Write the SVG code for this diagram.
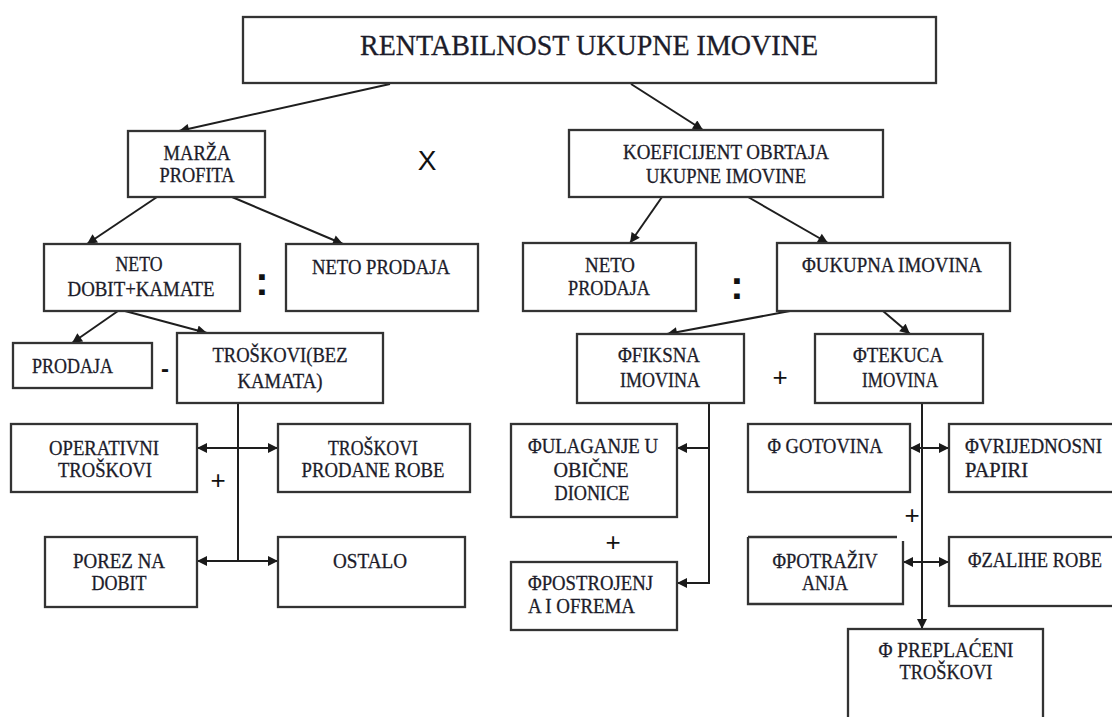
<svg xmlns="http://www.w3.org/2000/svg" width="1112" height="717" viewBox="0 0 1112 717">
<defs>
<marker id="ah" viewBox="0 0 10 10" markerWidth="11" markerHeight="10" refX="10" refY="5" orient="auto-start-reverse" markerUnits="userSpaceOnUse">
<path d="M0,0 L10,5 L0,10 z" fill="#1a1a1a"/>
</marker>
<style>
.box{fill:#fff;stroke:#333;stroke-width:2.3}
.t{font-family:"Liberation Serif","Times New Roman",serif;font-size:20px;fill:#1c1c2a;stroke:#1c1c2a;stroke-width:0.3;text-anchor:middle}
.s{text-anchor:start}
.title{font-size:30px}
.op{font-family:"Liberation Sans",Arial,sans-serif;fill:#111;text-anchor:middle}
.c{fill:none;stroke:#1e1e1e;stroke-width:2}
.a{marker-end:url(#ah)}
.d{marker-start:url(#ah);marker-end:url(#ah)}
</style>
</defs>
<rect width="1112" height="717" fill="#fff"/>

<g id="connectors">
<line class="c a" x1="390" y1="84" x2="179" y2="131"/>
<line class="c a" x1="631" y1="84" x2="703" y2="130"/>
<line class="c a" x1="157" y1="197" x2="87" y2="244"/>
<line class="c a" x1="232" y1="197" x2="343" y2="244"/>
<line class="c a" x1="662" y1="197" x2="630" y2="243"/>
<line class="c a" x1="748" y1="197" x2="828" y2="243"/>
<line class="c a" x1="118" y1="311" x2="72" y2="343"/>
<line class="c a" x1="125" y1="311" x2="207" y2="333"/>
<line class="c a" x1="790" y1="311" x2="667" y2="334"/>
<line class="c a" x1="883" y1="311" x2="910" y2="334"/>
<line class="c" x1="238" y1="403" x2="238" y2="561"/>
<line class="c d" x1="197" y1="448" x2="278" y2="448"/>
<line class="c d" x1="197" y1="561" x2="278" y2="561"/>
<path class="c a" d="M709,403 V583 H677"/>
<line class="c a" x1="709" y1="448" x2="677" y2="448"/>
<line class="c a" x1="922" y1="403" x2="922" y2="629"/>
<line class="c d" x1="910" y1="448" x2="949" y2="448"/>
<line class="c d" x1="903" y1="562" x2="949" y2="562"/>
</g>

<g id="rentabilnost">
<rect class="box" x="243" y="17" width="693" height="66"/>
<text class="t title" x="589" y="55" textLength="458" lengthAdjust="spacingAndGlyphs">RENTABILNOST UKUPNE IMOVINE</text>
</g>
<g id="marza">
<rect class="box" x="128" y="131" width="137" height="66"/>
<text class="t" x="197" y="160" textLength="67" lengthAdjust="spacingAndGlyphs">MARŽA</text>
<text class="t" x="197" y="182" textLength="75" lengthAdjust="spacingAndGlyphs">PROFITA</text>
</g>
<g id="koeficijent">
<rect class="box" x="569" y="130" width="314" height="67"/>
<text class="t" x="726" y="159" textLength="206" lengthAdjust="spacingAndGlyphs">KOEFICIJENT OBRTAJA</text>
<text class="t" x="726" y="183" textLength="160" lengthAdjust="spacingAndGlyphs">UKUPNE IMOVINE</text>
</g>
<g id="neto-dobit">
<rect class="box" x="44" y="244" width="196" height="67"/>
<text class="t" x="139" y="271" textLength="47" lengthAdjust="spacingAndGlyphs">NETO</text>
<text class="t" x="141" y="296" textLength="147" lengthAdjust="spacingAndGlyphs">DOBIT+KAMATE</text>
</g>
<g id="neto-prodaja-1">
<rect class="box" x="286" y="244" width="192" height="67"/>
<text class="t" x="381" y="274" textLength="138" lengthAdjust="spacingAndGlyphs">NETO PRODAJA</text>
</g>
<g id="neto-prodaja-2">
<rect class="box" x="523" y="243" width="173" height="68"/>
<text class="t" x="610" y="272" textLength="50" lengthAdjust="spacingAndGlyphs">NETO</text>
<text class="t" x="609" y="295" textLength="82" lengthAdjust="spacingAndGlyphs">PRODAJA</text>
</g>
<g id="ukupna-imovina">
<rect class="box" x="777" y="243" width="233" height="68"/>
<text class="t" x="892" y="272" textLength="180" lengthAdjust="spacingAndGlyphs">ΦUKUPNA IMOVINA</text>
</g>
<g id="prodaja">
<rect class="box" x="13" y="343" width="139" height="45"/>
<text class="t s" x="32" y="373" textLength="81" lengthAdjust="spacingAndGlyphs">PRODAJA</text>
</g>
<g id="troskovi-bez-kamata">
<rect class="box" x="177" y="333" width="206" height="70"/>
<text class="t" x="280" y="362" textLength="135" lengthAdjust="spacingAndGlyphs">TROŠKOVI(BEZ</text>
<text class="t" x="280" y="388" textLength="85" lengthAdjust="spacingAndGlyphs">KAMATA)</text>
</g>
<g id="fiksna-imovina">
<rect class="box" x="577" y="334" width="167" height="69"/>
<text class="t" x="659" y="362" textLength="82" lengthAdjust="spacingAndGlyphs">ΦFIKSNA</text>
<text class="t" x="660" y="387" textLength="80" lengthAdjust="spacingAndGlyphs">IMOVINA</text>
</g>
<g id="tekuca-imovina">
<rect class="box" x="815" y="334" width="168" height="69"/>
<text class="t" x="898" y="362" textLength="90" lengthAdjust="spacingAndGlyphs">ΦTEKUCA</text>
<text class="t" x="900" y="387" textLength="76" lengthAdjust="spacingAndGlyphs">IMOVINA</text>
</g>
<g id="operativni-troskovi">
<rect class="box" x="11" y="424" width="186" height="68"/>
<text class="t" x="104" y="455" textLength="110" lengthAdjust="spacingAndGlyphs">OPERATIVNI</text>
<text class="t" x="105" y="477" textLength="94" lengthAdjust="spacingAndGlyphs">TROŠKOVI</text>
</g>
<g id="troskovi-prodane-robe">
<rect class="box" x="278" y="424" width="192" height="68"/>
<text class="t" x="373" y="455" textLength="90" lengthAdjust="spacingAndGlyphs">TROŠKOVI</text>
<text class="t" x="373" y="477" textLength="143" lengthAdjust="spacingAndGlyphs">PRODANE ROBE</text>
</g>
<g id="porez-na-dobit">
<rect class="box" x="45" y="537" width="152" height="70"/>
<text class="t" x="119" y="568" textLength="92" lengthAdjust="spacingAndGlyphs">POREZ NA</text>
<text class="t" x="119" y="590" textLength="55" lengthAdjust="spacingAndGlyphs">DOBIT</text>
</g>
<g id="ostalo">
<rect class="box" x="278" y="537" width="187" height="70"/>
<text class="t" x="370" y="568" textLength="74" lengthAdjust="spacingAndGlyphs">OSTALO</text>
</g>
<g id="ulaganje">
<rect class="box" x="511" y="424" width="166" height="93"/>
<text class="t" x="593" y="453" textLength="130" lengthAdjust="spacingAndGlyphs">ΦULAGANJE U</text>
<text class="t" x="591" y="477" textLength="75" lengthAdjust="spacingAndGlyphs">OBIČNE</text>
<text class="t" x="592" y="500" textLength="75" lengthAdjust="spacingAndGlyphs">DIONICE</text>
</g>
<g id="postrojenja">
<rect class="box" x="511" y="562" width="166" height="68"/>
<text class="t s" x="528" y="590" textLength="125" lengthAdjust="spacingAndGlyphs">ΦPOSTROJENJ</text>
<text class="t s" x="528" y="613" textLength="107" lengthAdjust="spacingAndGlyphs">A I OFREMA</text>
</g>
<g id="gotovina">
<rect class="box" x="748" y="424" width="162" height="68"/>
<text class="t" x="825" y="453" textLength="115" lengthAdjust="spacingAndGlyphs">Φ GOTOVINA</text>
</g>
<g id="vrijednosni-papiri">
<rect class="box" x="949" y="424" width="170" height="68"/>
<text class="t s" x="965" y="453" textLength="137" lengthAdjust="spacingAndGlyphs">ΦVRIJEDNOSNI</text>
<text class="t s" x="965" y="477" textLength="63" lengthAdjust="spacingAndGlyphs">PAPIRI</text>
</g>
<g id="potrazivanja">
<path d="M748,537 H897 M903,541 V604 H748 V537" fill="#fff" stroke="#333" stroke-width="2.3"/>
<text class="t" x="825" y="568" textLength="105" lengthAdjust="spacingAndGlyphs">ΦPOTRAŽIV</text>
<text class="t" x="825" y="590" textLength="46" lengthAdjust="spacingAndGlyphs">ANJA</text>
</g>
<g id="zalihe-robe">
<rect class="box" x="949" y="537" width="170" height="69"/>
<text class="t s" x="968" y="567" textLength="134" lengthAdjust="spacingAndGlyphs">ΦZALIHE ROBE</text>
</g>
<g id="preplaceni-troskovi">
<rect class="box" x="848" y="629" width="195" height="110"/>
<text class="t" x="946" y="657" textLength="135" lengthAdjust="spacingAndGlyphs">Φ PREPLAĆENI</text>
<text class="t" x="946" y="679" textLength="93" lengthAdjust="spacingAndGlyphs">TROŠKOVI</text>
</g>

<g id="operators">
<text class="op" x="427" y="170" font-size="28">X</text>
<text class="op" x="262" y="295" font-size="40" font-weight="bold">:</text>
<text class="op" x="737" y="299" font-size="40" font-weight="bold">:</text>
<text class="op" x="165" y="377" font-size="24" font-weight="bold">-</text>
<text class="op" x="218" y="489" font-size="26">+</text>
<text class="op" x="780" y="386" font-size="26">+</text>
<text class="op" x="613" y="551" font-size="26">+</text>
<text class="op" x="912" y="524" font-size="26">+</text>
</g>
</svg>
